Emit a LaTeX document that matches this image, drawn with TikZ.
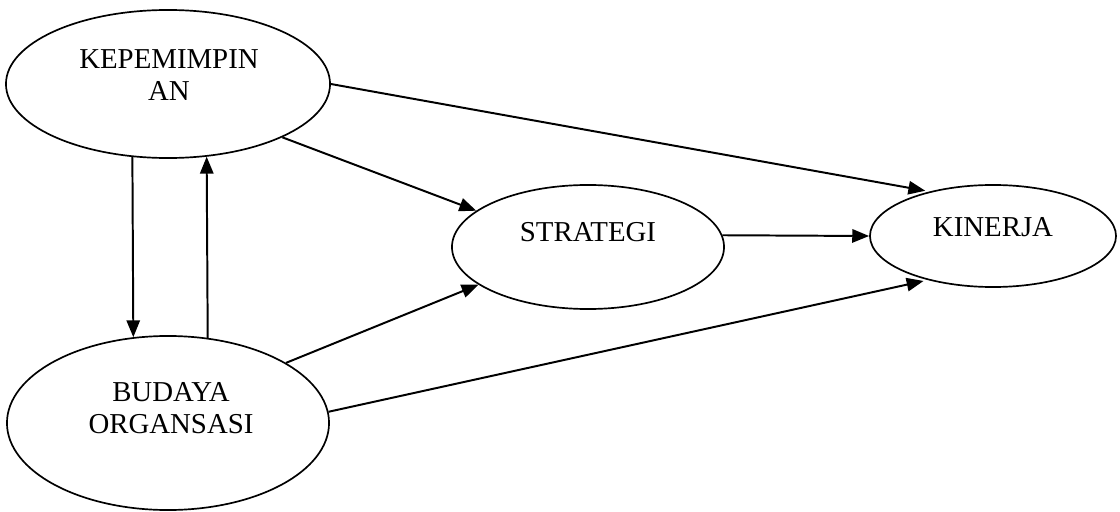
\documentclass[tikz,border=0pt]{standalone}
\usepackage{fontspec}
\setmainfont{Liberation Serif}
\usetikzlibrary{shapes.geometric,arrows.meta}

\begin{document}
\begin{tikzpicture}[
  x=0.025cm, y=-0.025cm,
  oval/.style={ellipse, draw, line width=1.2pt, inner sep=0pt},
  lbl/.style={align=center, font=\fontsize{20.5}{23}\selectfont},
  arr/.style={-{Triangle[length=12pt,width=9.5pt]}, line width=1.4pt}
]
  \useasboundingbox (0,0) rectangle (1120,512);
  \node[oval, minimum width=8.1cm, minimum height=3.7cm] (kep) at (168,84) {};
  \node[oval, minimum width=8.05cm, minimum height=4.35cm] (bud) at (168,423) {};
  \node[oval, minimum width=6.8cm, minimum height=3.1cm] (str) at (588,247) {};
  \node[oval, minimum width=6.15cm, minimum height=2.55cm] (kin) at (993,236) {};

  \node[lbl] (kepText) at (169,75) {KEPEMIMPIN\\AN};
  \node[lbl] (budText) at (171,408) {BUDAYA\\ORGANSASI};
  \node[lbl] (strText) at (588,232) {STRATEGI};
  \node[lbl] (kinText) at (993,227) {KINERJA};

  \draw[arr] (kep.244.2) -- (bud.112.4);
  \draw[arr] (bud.65.2) -- (kep.298.5);
  \draw[arr, shorten >=3pt] (kep.east) -- (kin.145);
  \draw[arr] (kep.335.6) -- (str.162.2);
  \draw[arr] (bud.27.9) -- (str.199.5);
  \draw[arr, shorten >=3pt] (bud.4) -- (kin.214.2);
  \draw[arr] (str.5) -- (kin.west);
\end{tikzpicture}
\end{document}
